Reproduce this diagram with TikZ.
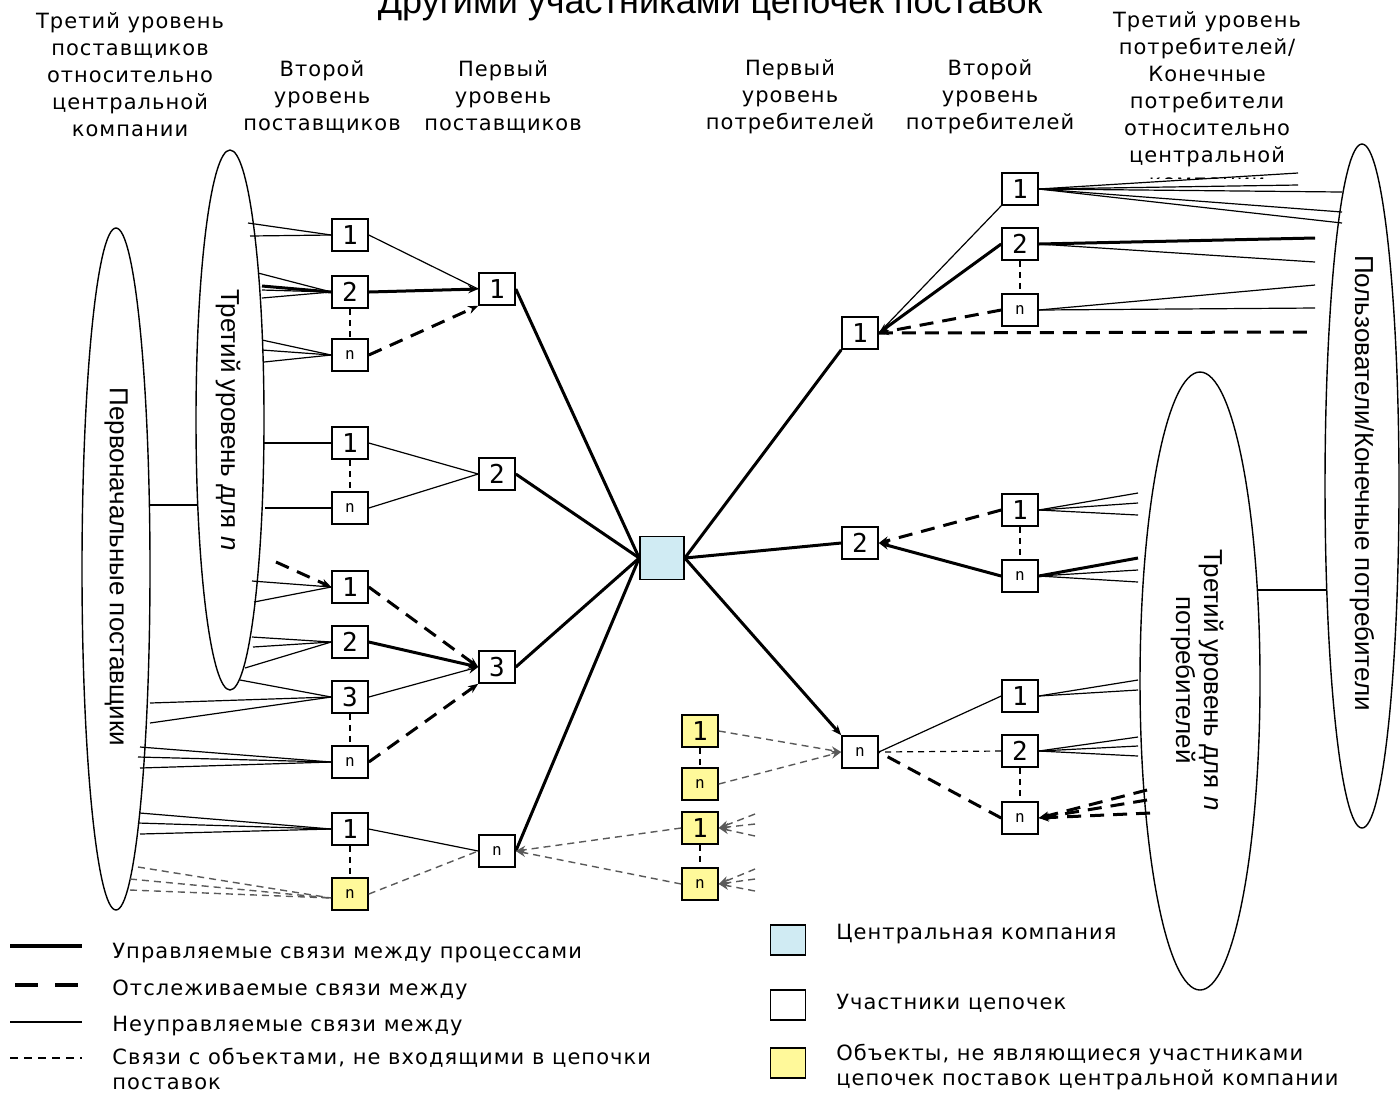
\documentclass[tikz,border=0pt]{standalone}
\usepackage{fontspec}
\setmainfont{DejaVu Sans}[LetterSpace=5]
\newfontfamily\rotf{Liberation Sans}
\newfontfamily\boxf{DejaVu Sans Mono}
\usetikzlibrary{arrows.meta,shapes.geometric}
\definecolor{cblue}{HTML}{D0EBF3}
\definecolor{cyel}{HTML}{FFF99A}
\newcommand\nsmall{\fontsize{8}{8}\selectfont}
\begin{document}
\begin{tikzpicture}[x=0.5pt,y=-0.5pt,
  box/.style={draw, line width=0.8pt, fill=white, minimum width=18pt, minimum height=16pt, inner sep=0pt, font=\boxf\fontsize{13}{13}\selectfont},
  ybox/.style={box, fill=cyel},
  ctrl/.style={line width=1.5pt},
  unc/.style={line width=0.6pt},
  trk/.style={line width=1.5pt, dash pattern=on 7pt off 4.5pt},
  ext/.style={line width=0.7pt, draw=black!65, dash pattern=on 3.5pt off 2.5pt},
  vcon/.style={line width=0.6pt, dash pattern=on 3pt off 2.5pt},
  tip/.style={-{Stealth[length=5pt,width=4pt]}},
  hdr/.style={align=center, font=\fontsize{10.5}{13.5}\selectfont, inner sep=0pt},
  lg/.style={align=left, anchor=west, font=\fontsize{10.5}{12.5}\selectfont, inner sep=0pt},
  ell/.style={draw, ellipse, line width=0.7pt, inner sep=0pt},
  rot/.style={rotate=-90, align=center, font=\rotf\fontsize{13}{14}\selectfont, inner sep=0pt}]
\useasboundingbox (0,0) rectangle (1400,1094);

% title and headers
\node[font=\rotf\fontsize{18}{18}\selectfont, anchor=base, inner sep=0pt] (title) at (710,13) {Другими участниками цепочек поставок};
\node[hdr] (h1) at (130,75) {Третий уровень\\поставщиков\\относительно\\центральной\\компании};
\node[hdr] (h2) at (322,97) {Второй\\уровень\\поставщиков};
\node[hdr] (h3) at (503,97) {Первый\\уровень\\поставщиков};
\node[hdr] (h4) at (790,97) {Первый\\уровень\\потребителей};
\node[hdr] (h5) at (990,97) {Второй\\уровень\\потребителей};
\begin{scope}
\clip (1090,0) rectangle (1330,178);
\node[hdr] (h6) at (1207,101) {Третий уровень\\потребителей/\\Конечные\\потребители\\относительно\\центральной\\компании};
\end{scope}

% ellipses
\node[ell, minimum width=34pt, minimum height=341pt] (E1) at (116,569) {};
\node[ell, minimum width=34pt, minimum height=270pt] (E2) at (230,420) {};
\node[ell, minimum width=60pt, minimum height=309pt] (E3) at (1200,681) {};
\node[ell, minimum width=37pt, minimum height=342pt] (E4) at (1362,486) {};
\node[rot] (E1t) at (116,567) {Первоначальные поставщики};
\node[rot] (E2t) at (228,420) {Третий уровень для \textit{n}};
\node[rot] (E3t) at (1197,680) {Третий уровень для \textit{n}\\потребителей};
\node[rot] (E4t) at (1362,483) {Пользователи/Конечные потребители};
\coordinate (e1c) at (149,505); \coordinate (e2c) at (198,505);
\draw[unc] (e1c) -- (e2c);
\coordinate (e3c) at (1258,590); \coordinate (e4c) at (1326,590);
\draw[unc] (e3c) -- (e4c);

% second level suppliers
\node[box] (A1) at (350,235) {1};
\node[box] (A2) at (350,292) {2};
\node[box] (An) at (350,355) {\nsmall n};
\node[box] (B1) at (350,443) {1};
\node[box] (Bn) at (350,508) {\nsmall n};
\node[box] (C1) at (350,587) {1};
\node[box] (C2) at (350,642) {2};
\node[box] (C3) at (350,697) {3};
\node[box] (Cn) at (350,762) {\nsmall n};
\node[box] (D1) at (350,829) {1};
\node[ybox] (Dn) at (350,894) {\nsmall n};
% first level suppliers
\node[box] (S1) at (497,289) {1};
\node[box] (S2) at (497,474) {2};
\node[box] (S3) at (497,667) {3};
\node[box] (Sn) at (497,851) {\nsmall n};
% central
\node[draw, line width=0.8pt, fill=cblue, minimum width=22pt, minimum height=21.5pt, inner sep=0pt] (C) at (662,558) {};
% yellow objects
\node[ybox] (Y1) at (700,731) {1};
\node[ybox] (Yn1) at (700,784) {\nsmall n};
\node[ybox] (Y2) at (700,828) {1};
\node[ybox] (Yn2) at (700,884) {\nsmall n};
% first level consumers
\node[box] (P1) at (860,333) {1};
\node[box] (P2) at (860,543) {2};
\node[box] (Pn) at (860,752) {\nsmall n};
% second level consumers
\node[box] (Q1) at (1020,189) {1};
\node[box] (Q2) at (1020,244) {2};
\node[box] (Qn) at (1020,310) {\nsmall n};
\node[box] (R1) at (1020,510) {1};
\node[box] (Rn) at (1020,576) {\nsmall n};
\node[box] (T1) at (1020,696) {1};
\node[box] (T2) at (1020,751) {2};
\node[box] (Tn) at (1020,818) {\nsmall n};

% vertical links between boxes
\foreach \u/\v in {A2/An,B1/Bn,C3/Cn,D1/Dn,Q2/Qn,R1/Rn,T2/Tn,Y1/Yn1,Y2/Yn2}
  \draw[vcon] (\u.south) -- (\v.north);

% left fans
\foreach \px/\py [count=\i] in {248/223,250/236}
  {\coordinate (fa1-\i) at (\px,\py); \draw[unc] (fa1-\i) -- (A1.west);}
\foreach \px/\py [count=\i] in {258/273,262/290,262/298}
  {\coordinate (fa2-\i) at (\px,\py); \draw[unc] (fa2-\i) -- (A2.west);}
\coordinate (fa2t) at (262,286); \draw[ctrl] (fa2t) -- (A2.west);
\foreach \px/\py [count=\i] in {262/340,262/350,264/362}
  {\coordinate (fan-\i) at (\px,\py); \draw[unc] (fan-\i) -- (An.west);}
\coordinate (fb1) at (263,443); \draw[unc] (fb1) -- (B1.west);
\coordinate (fbn) at (265,508); \draw[unc] (fbn) -- (Bn.west);
\foreach \px/\py [count=\i] in {252/581,254/602}
  {\coordinate (fc1-\i) at (\px,\py); \draw[unc] (fc1-\i) -- (C1.west);}
\coordinate (fc1t) at (276,562); \draw[trk,tip] (fc1t) -- (C1.west);
\foreach \px/\py [count=\i] in {252/637,253/647,245/668}
  {\coordinate (fc2-\i) at (\px,\py); \draw[unc] (fc2-\i) -- (C2.west);}
\foreach \px/\py [count=\i] in {240/680,150/703,150/723}
  {\coordinate (fc3-\i) at (\px,\py); \draw[unc] (fc3-\i) -- (C3.west);}
\foreach \px/\py [count=\i] in {140/747,138/757,140/768}
  {\coordinate (fcn-\i) at (\px,\py); \draw[unc] (fcn-\i) -- (Cn.west);}
\foreach \px/\py [count=\i] in {140/813,138/823,140/834}
  {\coordinate (fd1-\i) at (\px,\py); \draw[unc] (fd1-\i) -- (D1.west);}
\foreach \px/\py [count=\i] in {138/867,130/879,130/890}
  {\coordinate (fdn-\i) at (\px,\py); \draw[ext] (fdn-\i) -- ([yshift=-2pt]Dn.west);}

% second -> first level suppliers
\draw[unc] (A1.east) -- (S1.west);
\draw[ctrl,tip] (A2.east) -- (S1.west);
\draw[trk,tip] (An.east) -- (S1.south west);
\draw[unc] (B1.east) -- (S2.west);
\draw[unc] (Bn.east) -- (S2.west);
\draw[trk,tip] (C1.east) -- (S3.west);
\draw[ctrl,tip] (C2.east) -- (S3.west);
\draw[unc,tip] (C3.east) -- (S3.west);
\draw[trk,tip] (Cn.east) -- (S3.south west);
\draw[unc] (D1.east) -- (Sn.west);
\draw[ext] (Dn.east) -- (Sn.west);

% first level suppliers -> central
\draw[ctrl] (S1.east) -- (C.west);
\draw[ctrl] (S2.east) -- (C.west);
\draw[ctrl] (S3.east) -- (C.west);
\draw[ctrl] (Sn.east) -- (C.west);

% yellow object links
\draw[ext,tip] (Y2.west) -- (Sn.east);
\draw[ext,tip] (Yn2.west) -- (Sn.east);
\draw[ext,tip] (Y1.east) -- (Pn.west);
\draw[ext,tip] (Yn1.east) -- (Pn.west);
\foreach \py [count=\i] in {814,824,836}
  {\coordinate (fy2-\i) at (755,\py); \draw[ext,tip] (fy2-\i) -- (Y2.east);}
\foreach \py [count=\i] in {869,879,891}
  {\coordinate (fy3-\i) at (755,\py); \draw[ext,tip] (fy3-\i) -- (Yn2.east);}

% central -> first level consumers
\draw[ctrl] (C.east) -- (P1.south west);
\draw[ctrl] (C.east) -- (P2.west);
\draw[ctrl,tip] (C.east) -- (Pn.north west);

% second -> first level consumers
\draw[unc] (Q1.south west) -- (P1.east);
\draw[ctrl,tip] (Q2.west) -- (P1.east);
\draw[trk,tip] (Qn.west) -- (P1.east);
\coordinate (fp1) at (1315,332); \draw[trk] (P1.east) -- (fp1);
\draw[trk,tip] (R1.west) -- (P2.east);
\draw[ctrl,tip] (Rn.west) -- (P2.east);
\draw[unc] (T1.west) -- (Pn.east);
\draw[vcon] (T2.west) -- (Pn.east);
\draw[trk] (Tn.west) -- (Pn.east);

% right fans
\foreach \px/\py [count=\i] in {1298/173,1298/185,1342/192,1342/212,1342/223}
  {\coordinate (fq1-\i) at (\px,\py); \draw[unc] (Q1.east) -- (fq1-\i);}
\coordinate (fq2a) at (1315,238); \draw[ctrl] (Q2.east) -- (fq2a);
\coordinate (fq2b) at (1315,262); \draw[unc] (Q2.east) -- (fq2b);
\foreach \py [count=\i] in {285,308}
  {\coordinate (fqn-\i) at (1315,\py); \draw[unc] (Qn.east) -- (fqn-\i);}
\foreach \py [count=\i] in {493,503,515}
  {\coordinate (fr1-\i) at (1138,\py); \draw[unc] (R1.east) -- (fr1-\i);}
\coordinate (frna) at (1138,558); \draw[ctrl] (Rn.east) -- (frna);
\foreach \py [count=\i] in {570,582}
  {\coordinate (frn-\i) at (1138,\py); \draw[unc] (Rn.east) -- (frn-\i);}
\foreach \py [count=\i] in {680,690}
  {\coordinate (ft1-\i) at (1138,\py); \draw[unc] (T1.east) -- (ft1-\i);}
\foreach \py [count=\i] in {737,746,756}
  {\coordinate (ft2-\i) at (1138,\py); \draw[unc] (T2.east) -- (ft2-\i);}
\foreach \px/\py [count=\i] in {1147/790,1147/800,1150/813}
  {\coordinate (ftn-\i) at (\px,\py); \draw[trk,tip] (ftn-\i) -- (Tn.east);}

% legend
\coordinate (la1) at (10,946); \coordinate (la2) at (82,946);
\draw[line width=2pt] (la1) -- (la2);
\coordinate (lb1) at (15,985); \coordinate (lb2) at (82,985);
\draw[line width=2pt, dash pattern=on 11.5pt off 8.5pt] (lb1) -- (lb2);
\coordinate (lc1) at (10,1022); \coordinate (lc2) at (82,1022);
\draw[unc] (lc1) -- (lc2);
\coordinate (ld1) at (10,1058); \coordinate (ld2) at (82,1058);
\draw[line width=0.7pt, dash pattern=on 4pt off 3pt] (ld1) -- (ld2);
\node[lg] (lt1) at (112,953) {Управляемые связи между процессами};
\node[lg] (lt2) at (112,990) {Отслеживаемые связи между};
\node[lg] (lt3) at (112,1026) {Неуправляемые связи между};
\node[lg] (lt4) at (112,1069) {Связи с объектами, не входящими в цепочки\\поставок};
\node[draw, line width=0.8pt, fill=cblue, minimum width=17.5pt, minimum height=15pt, inner sep=0pt] (lk1) at (788,940) {};
\node[draw, line width=0.8pt, fill=white, minimum width=17.5pt, minimum height=15pt, inner sep=0pt] (lk2) at (788,1005) {};
\node[draw, line width=0.8pt, fill=cyel, minimum width=17.5pt, minimum height=15pt, inner sep=0pt] (lk3) at (788,1063) {};
\node[lg] (lu1) at (836,934) {Центральная компания};
\node[lg] (lu2) at (836,1003) {Участники цепочек};
\node[lg] (lu3) at (836,1067) {Объекты, не являющиеся участниками\\цепочек поставок центральной компании};
\end{tikzpicture}
\end{document}
